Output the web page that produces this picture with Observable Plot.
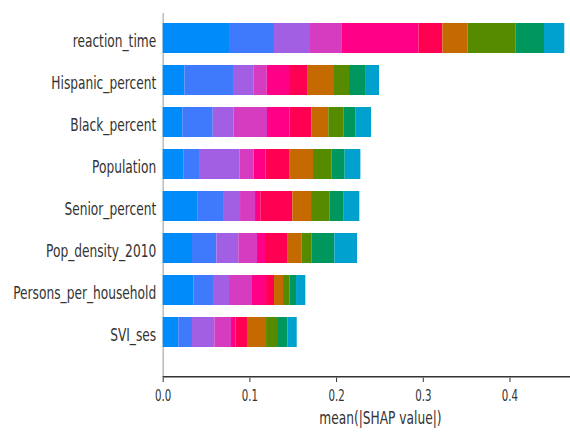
<!DOCTYPE html>
<html>
<head>
<meta charset="utf-8">
<script src="https://cdn.jsdelivr.net/npm/d3@7"></script>
<script src="https://cdn.jsdelivr.net/npm/@observablehq/plot@0.6"></script>
<style>
  html, body { margin: 0; padding: 0; background: #fff; }
  svg { display: block; }
</style>
</head>
<body>
<div id="chart"></div>
<script>
const features = ["reaction_time", "Hispanic_percent", "Black_percent", "Population",
  "Senior_percent", "Pop_density_2010", "Persons_per_household", "SVI_ses"];
const classes = ["Class 0", "Class 1", "Class 2", "Class 3", "Class 4",
  "Class 5", "Class 6", "Class 7", "Class 8", "Class 9"];
const classColors = ["#008bfb", "#3f7afc", "#a35fe4", "#d63cbf", "#ff0087",
  "#ff0052", "#c46a00", "#568b00", "#00975f", "#00a0cf"];

// mean(|SHAP value|) per class, one value per feature (same order as features)
const class0 = [0.0765, 0.0250, 0.0226, 0.0242, 0.0404, 0.0338, 0.0353, 0.0180];
const class1 = [0.0519, 0.0561, 0.0351, 0.0177, 0.0292, 0.0281, 0.0227, 0.0158];
const class2 = [0.0415, 0.0234, 0.0238, 0.0469, 0.0196, 0.0253, 0.0185, 0.0257];
const class3 = [0.0361, 0.0155, 0.0388, 0.0162, 0.0173, 0.0216, 0.0265, 0.0193];
const class4 = [0.0889, 0.0257, 0.0262, 0.0134, 0.0061, 0.0092, 0.0162, 0.0054];
const class5 = [0.0277, 0.0208, 0.0249, 0.0281, 0.0369, 0.0262, 0.0092, 0.0130];
const class6 = [0.0292, 0.0311, 0.0196, 0.0269, 0.0216, 0.0157, 0.0104, 0.0220];
const class7 = [0.0554, 0.0173, 0.0178, 0.0211, 0.0215, 0.0120, 0.0073, 0.0127];
const class8 = [0.0326, 0.0185, 0.0138, 0.0154, 0.0162, 0.0261, 0.0077, 0.0119];
const class9 = [0.0234, 0.0161, 0.0177, 0.0181, 0.0180, 0.0261, 0.0107, 0.0108];
const xTicks = [0, 0.1, 0.2, 0.3, 0.4];
const xLabel = "mean(|SHAP value|)";

const series = [class0, class1, class2, class3, class4, class5, class6, class7, class8, class9];
const data = features.flatMap((f, i) =>
  classes.map((c, k) => ({feature: f, cls: c, value: series[k][i]})));

const W = 570, H = 436;
const mL = 162.7, mT = 13, mB = 58.5;
const xMax = 0.4698;

const plot = Plot.plot({
  width: W,
  height: H,
  marginLeft: mL,
  marginRight: 0,
  marginTop: mT,
  marginBottom: mB,
  style: {fontFamily: "DejaVu Sans", color: "#333", background: "#fff"},
  x: {domain: [0, xMax]},
  y: {domain: features, range: [20.7, 348.5], paddingInner: 0.295, paddingOuter: 0, align: 0.5},
  color: {domain: classes, range: classColors},
  marks: [
    Plot.ruleX([0], {stroke: "#bbbbbb", strokeWidth: 1.5}),
    Plot.barX(data, {x: "value", y: "feature", fill: "cls"}),
    Plot.rect([0], {x1: 0, x2: xMax, fill: "#333", insetTop: (H - mB - mT) - 1.5}),
    Plot.axisY({tickSize: 0, tickPadding: 7, fontSize: 18.5, dy: 3, label: null}),
    Plot.axisX({ticks: xTicks, tickFormat: d3.format(".1f"), tickSize: 4.5, tickPadding: 7,
      fontSize: 15.5, stroke: "#333", label: null}),
    Plot.text([xLabel], {frameAnchor: "bottom", text: d => d, dx: 13.6, dy: 40.5,
      lineAnchor: "middle", fontSize: 18.5, fill: "#333"})
  ]
});

document.getElementById("chart").append(plot);
plot.querySelectorAll("text").forEach(t => {
  const L = t.getComputedTextLength();
  if (L > 0) {
    t.setAttribute("textLength", (L * 0.66).toFixed(2));
    t.setAttribute("lengthAdjust", "spacingAndGlyphs");
  }
});
</script>
</body>
</html>
